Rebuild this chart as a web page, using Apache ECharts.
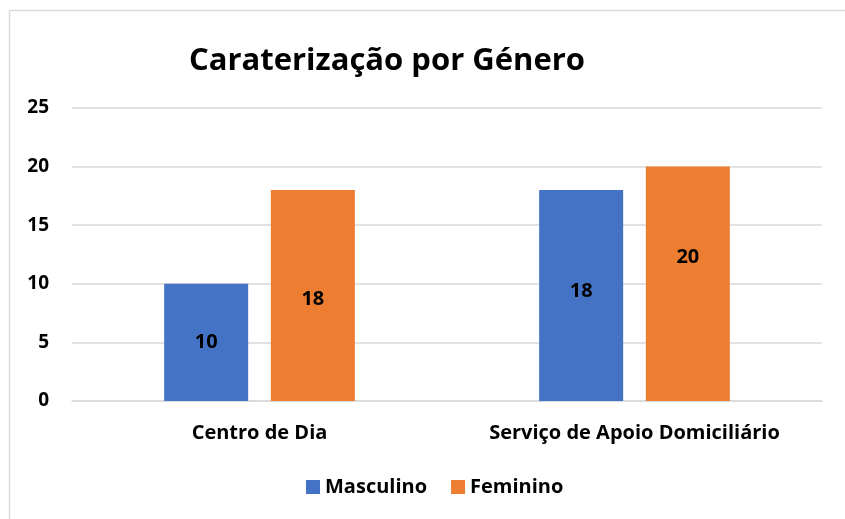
<!DOCTYPE html>
<html><head><meta charset="utf-8">
<script src="https://cdn.jsdelivr.net/npm/echarts@6/dist/echarts.min.js"></script>
<style>html,body{margin:0;padding:0;background:#fff}#c{width:845px;height:519px}</style>
</head><body><div id="c"></div>
<script>
const categories = ["Centro de Dia", "Serviço de Apoio Domiciliário"];
const masculino = [10, 18];
const feminino = [18, 20];
const seriesNames = ["Masculino", "Feminino"];
const yTicks = {min: 0, max: 25, interval: 5};
// manual label nudges (px) as in the original chart
const masculinoLabelShift = [0, -4];
const femininoLabelShift = [4, -27];
const FONT = "'Open Sans','Liberation Sans',sans-serif";
const chart = echarts.init(document.getElementById('c'), null, {renderer: 'canvas'});
const lbl = {show: true, position: 'inside', color: '#000', fontWeight: 'bold', fontSize: 20, fontFamily: FONT};
const withShift = (vals, shifts) => vals.map((v, i) => ({value: v, label: {offset: [0, shifts[i]]}}));
chart.setOption({
  animation: false,
  textStyle: {fontFamily: FONT},
  graphic: [{type: 'rect', shape: {x: 9.5, y: 10.5, width: 900, height: 600}, style: {fill: 'none', stroke: '#d9d9d9', lineWidth: 1.5}, z: -1}],
  title: {text: 'Caraterização por Género', left: 382, top: 41, textAlign: 'center',
    textStyle: {fontSize: 31, fontWeight: 'bold', color: '#000', fontFamily: FONT}},
  legend: {data: seriesNames, bottom: 17, left: 301, itemWidth: 14, itemHeight: 14, itemGap: 24,
    icon: 'rect', textStyle: {fontSize: 20, fontWeight: 'bold', color: '#000', fontFamily: FONT}},
  grid: {left: 72, right: 23, top: 108, bottom: 118},
  xAxis: {type: 'category', data: categories,
    axisLine: {lineStyle: {color: '#d9d9d9', width: 1.5}}, axisTick: {show: false},
    axisLabel: {interval: 0, hideOverlap: false, color: '#000', fontWeight: 'bold', fontSize: 20, margin: 22, fontFamily: FONT}},
  yAxis: {type: 'value', min: yTicks.min, max: yTicks.max, interval: yTicks.interval,
    axisLine: {show: false}, axisTick: {show: false},
    splitLine: {lineStyle: {color: '#d9d9d9', width: 1.5}},
    axisLabel: {color: '#000', fontWeight: 'bold', fontSize: 19, margin: 23, fontFamily: FONT}},
  series: [
    {name: seriesNames[0], type: 'bar', data: withShift(masculino, masculinoLabelShift), barWidth: '22.4%', barGap: '27%',
      itemStyle: {color: '#4472C4'}, label: lbl},
    {name: seriesNames[1], type: 'bar', data: withShift(feminino, femininoLabelShift), barWidth: '22.4%',
      itemStyle: {color: '#ED7D31'}, label: lbl}
  ]
});
</script></body></html>
